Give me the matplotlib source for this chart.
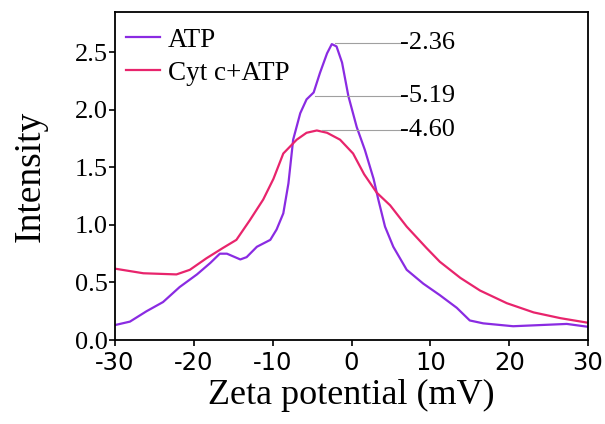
import numpy as np
import matplotlib.pyplot as plt

plt.rcParams['font.family'] = ['Liberation Serif', 'DejaVu Serif']
plt.rcParams['axes.unicode_minus'] = False

# ATP curve
atp_x = [-30, -28.1, -26.0, -23.9, -21.8, -19.6, -17.9, -16.7, -15.8, -14.1, -13.3,
         -12.0, -10.3, -9.5, -8.65, -8.0, -7.4, -6.5, -5.7, -4.8, -4.0, -3.1, -2.5,
         -1.9, -1.2, -0.4, 0.66, 1.7, 2.8, 3.4, 4.25, 5.3, 7.0, 9.1, 11.2, 13.35,
         15.0, 16.7, 20.5, 23.9, 27.3, 30]
atp_y = [0.13, 0.16, 0.25, 0.33, 0.46, 0.57, 0.67, 0.75, 0.75, 0.70, 0.72,
         0.81, 0.87, 0.96, 1.10, 1.36, 1.74, 1.97, 2.09, 2.15, 2.32, 2.49, 2.57,
         2.55, 2.41, 2.12, 1.85, 1.65, 1.40, 1.22, 0.985, 0.81, 0.61, 0.49, 0.39, 0.28,
         0.17, 0.145, 0.12, 0.13, 0.14, 0.115]

# Cyt c + ATP curve
cyt_x = [-30, -26.4, -22.2, -20.5, -18.4, -16.3, -14.6, -12.9, -11.2, -9.9, -8.65,
         -6.95, -5.7, -4.4, -3.1, -1.45, 0.2, 1.6, 3.2, 4.9, 7.0, 9.5, 11.2, 13.8,
         16.3, 19.7, 23.1, 26.5, 30]
cyt_y = [0.62, 0.58, 0.57, 0.61, 0.71, 0.80, 0.87, 1.04, 1.22, 1.40, 1.62,
         1.74, 1.80, 1.82, 1.80, 1.74, 1.62, 1.44, 1.28, 1.17, 0.985, 0.80, 0.68, 0.54,
         0.43, 0.32, 0.24, 0.19, 0.15]

# peak labels: text, point on curve
peak_labels = ['-2.36', '-5.19', '-4.60']
peak_x = [-2.1, -4.6, -3.8]
peak_y = [2.58, 2.12, 1.82]
label_x = 6.15

fig = plt.figure(figsize=(6.05, 4.24), dpi=100)
ax = fig.add_axes([0.190, 0.198, 0.782, 0.774])

ax.plot(atp_x, atp_y, color='#8a2be2', lw=1.6, label='ATP')
ax.plot(cyt_x, cyt_y, color='#e8246c', lw=1.6, label='Cyt c+ATP')

for t, px, py in zip(peak_labels, peak_x, peak_y):
    ax.plot([px, label_x], [py, py], color='#a0a0a0', lw=0.8)
    ax.text(label_x + 0.05, py, t, fontsize=19, va='center', ha='left')

ax.set_xlim(-30, 30)
ax.set_ylim(0, 2.85)
ax.set_xticks([-30, -20, -10, 0, 10, 20, 30])
ax.set_yticks([0.0, 0.5, 1.0, 1.5, 2.0, 2.5])
ax.set_yticklabels(['0.0', '0.5', '1.0', '1.5', '2.0', '2.5'])
ax.tick_params(axis='both', direction='out', length=4, width=1.2)
ax.tick_params(axis='y', labelsize=19, pad=1)
ax.tick_params(axis='x', labelsize=17.5, pad=4)
for lab in ax.get_xticklabels():
    lab.set_fontfamily('DejaVu Sans')
for s in ax.spines.values():
    s.set_linewidth(1.3)

ax.set_xlabel('Zeta potential (mV)', fontsize=26, labelpad=3)
ax.set_ylabel('Intensity', fontsize=27, labelpad=20)

ax.legend(loc='upper left', fontsize=19.5, frameon=False, handlelength=1.25,
          handletextpad=0.3, borderaxespad=0.0, labelspacing=0.3,
          bbox_to_anchor=(0.0, 0.985))

fig.savefig('out.png', dpi=100)
